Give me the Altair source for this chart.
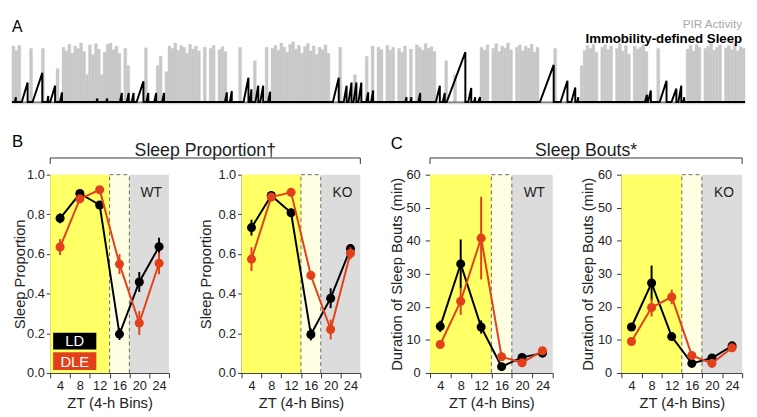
import altair as alt
import pandas as pd

FONT = "Liberation Sans"
INK = "#222222"
AXIS_INK = "#333333"
LD_COLOR = "#000000"
DLE_COLOR = "#e2401a"
PIR_COLOR = "#c8c8c8"
LIGHT_FILL = "#ffff66"
DIM_FILL = "#fefee2"
DARK_FILL = "#dcdcdc"

# ---------------- Panel A: PIR activity per time bin (relative height) ----------------
act_1 = [0.92, 0.85, 0.93, 0, 0, 0, 0.88, 0, 0, 0, 0.88, 0, 0, 0, 0, 0.55, 0, 0.9, 0.84, 0.95, 0.8, 0.92, 0.88, 0.97, 0.83]
act_2 = [0.45, 0.94, 0.78, 0.96, 0.87, 0.45, 0.82, 0.95, 0.97, 0.86, 0.92, 0.8, 0, 0.88, 0.6, 0, 0, 0, 0, 0, 0.89, 0, 0, 0, 0.6]
act_3 = [0.75, 0, 0.5, 0.92, 0.88, 0.97, 0.85, 0.93, 0.9, 0.8, 0.95, 0.87, 0.92, 0.84, 0, 0.9, 0, 0.88, 0.93, 0, 0.86, 0.91, 0.83, 0, 0]
act_4 = [0, 0, 0.9, 0, 0, 0, 0, 0.68, 0, 0, 0, 0.9, 0, 0.88, 0.93, 0.85, 0.97, 0.9, 0.82, 0.95, 0.99, 0.87, 0.93, 0.8, 0.91]
act_5 = [0.96, 0.84, 0.92, 0.78, 0.9, 0.86, 0.94, 0.8, 0, 0, 0, 0.9, 0, 0, 0, 0, 0.45, 0, 0, 0, 0.75, 0, 0.92, 0, 0.9]
act_6 = [0.86, 0, 0.93, 0.85, 0.9, 0, 0.88, 0.82, 0.92, 0, 0.87, 0, 0.94, 0.9, 0.85, 0.96, 0.88, 0.91, 0.83, 0, 0, 0, 0.68, 0, 0]
act_7 = [0.45, 0, 0, 0, 0, 0, 0, 0, 0, 0.9, 0.85, 0.94, 0, 0.88, 0.96, 0.83, 0.92, 0.89, 0.97, 0.86, 0, 0.9, 0.94, 0.84, 0.92]
act_8 = [0.88, 0.95, 0.82, 0.9, 0, 0, 0, 0, 0, 0.88, 0, 0, 0, 0, 0, 0, 0, 0, 0.6, 0.85, 0.93, 0.88, 0.95, 0.82, 0]
act_9 = [0.9, 0.94, 0.86, 0.92, 0, 0.88, 0.96, 0.84, 0.93, 0.79, 0, 0.92, 0.87, 0.9, 0.95, 0.83, 0, 0, 0, 0.88, 0, 0, 0, 0, 0]
act_10 = [0, 0, 0, 0, 0.87, 0.93, 0.84, 0.95, 0.9, 0, 0.88, 0.92, 0.97, 0.85, 0.9, 0.94, 0, 0.89, 0.93, 0.86, 0.96, 0.84, 0.91, 0.88]
pir_activity = act_1 + act_2 + act_3 + act_4 + act_5 + act_6 + act_7 + act_8 + act_9 + act_10

# Immobility-defined sleep bouts: accumulates from start to end, then resets
bout_start = [0.5, 2.83, 6.5, 11.5, 12.5, 15.83, 28.17, 31.5, 36.17, 38.5, 40.17, 41.83,
              45.17, 47.83, 50.5, 71.83, 73.5, 78.17, 80.33, 82.17, 83.83, 86.5, 108.5, 112.17,
              113.83, 115.5, 117.17, 119.83, 121.5, 133.17, 134.83, 137.5, 143.5, 145.83, 147.17, 154.5,
              156.5, 157.83, 178.83, 185.83, 189.5, 191.5, 214.5, 215.5, 219.5, 223.5, 225.83, 227.5]
bout_end = [0.83, 4.83, 9.83, 11.83, 14.17, 16.5, 28.5, 31.83, 36.83, 39.17, 40.83, 44.17,
            45.83, 48.5, 51.17, 72.5, 74.17, 79.83, 80.83, 83.17, 84.83, 87.17, 110.5, 113.17,
            114.83, 116.5, 118.17, 120.5, 122.17, 133.5, 135.17, 138.17, 144.83, 146.5, 153.5, 155.5,
            156.83, 158.5, 183.5, 188.17, 190.83, 191.83, 215.17, 216.5, 221.83, 225.17, 226.83, 227.83]
bout_peak = [0.08, 0.32, 0.48, 0.1, 0.27, 0.16, 0.06, 0.06, 0.15, 0.15, 0.15, 0.34,
             0.15, 0.15, 0.15, 0.16, 0.18, 0.4, 0.21, 0.27, 0.27, 0.17, 0.4, 0.27,
             0.32, 0.32, 0.32, 0.16, 0.19, 0.08, 0.08, 0.15, 0.27, 0.15, 0.82, 0.23,
             0.08, 0.08, 0.61, 0.35, 0.24, 0.08, 0.12, 0.19, 0.35, 0.22, 0.27, 0.08]

# ---------------- Panels B and C ----------------
zt_ticks = [0, 4, 8, 12, 16, 20, 24]
zt_mid = [2, 6, 10, 14, 18, 22]
phase_start = [0, 12, 16]
phase_end = [12, 16, 24]
phase_fill = [LIGHT_FILL, DIM_FILL, DARK_FILL]
dash_x = [12, 16, 12]
dash_x2 = [12, 16, 16]
dash_y_frac = [0, 0, 1]
prop_ticks = [0.0, 0.2, 0.4, 0.6, 0.8, 1.0]
bout_ticks = [0, 10, 20, 30, 40, 50, 60]

prop_wt_ld = [0.78, 0.905, 0.847, 0.196, 0.459, 0.637]
prop_wt_ld_sem = [0.025, 0.012, 0.02, 0.03, 0.05, 0.045]
prop_wt_dle = [0.635, 0.878, 0.924, 0.549, 0.252, 0.553]
prop_wt_dle_sem = [0.04, 0.015, 0.015, 0.05, 0.06, 0.055]
prop_ko_ld = [0.733, 0.895, 0.808, 0.194, 0.377, 0.627]
prop_ko_ld_sem = [0.04, 0.015, 0.02, 0.03, 0.05, 0.02]
prop_ko_dle = [0.574, 0.887, 0.911, 0.492, 0.219, 0.604]
prop_ko_dle_sem = [0.06, 0.015, 0.015, 0.02, 0.05, 0.03]
bout_wt_ld = [14.1, 33.0, 13.9, 1.9, 4.7, 6.0]
bout_wt_ld_sem = [1.7, 7.4, 2.0, 0.8, 0.5, 0.8]
bout_wt_dle = [8.6, 21.7, 40.8, 4.9, 3.1, 6.7]
bout_wt_dle_sem = [0.8, 4.1, 12.5, 0.8, 0.6, 0.8]
bout_ko_ld = [13.9, 27.2, 11.0, 2.9, 4.5, 8.2]
bout_ko_ld_sem = [0.8, 5.3, 0.8, 0.6, 0.5, 0.6]
bout_ko_dle = [9.5, 19.8, 23.0, 5.3, 2.9, 7.6]
bout_ko_dle_sem = [0.8, 2.7, 2.2, 0.6, 0.6, 0.8]

one = pd.DataFrame({"k": [0]})


def label_text(txt, x, y, size, **kw):
    return alt.Chart(one).mark_text(text=txt, fontSize=size, font=FONT, **kw).encode(
        x=alt.value(x), y=alt.value(y))


def hrule(x1, x2, y, color=AXIS_INK, w=1):
    return alt.Chart(one).mark_rule(color=color, strokeWidth=w).encode(
        x=alt.value(x1), x2=alt.value(x2), y=alt.value(y))


def vrule(x, y1, y2, color=AXIS_INK, w=1):
    return alt.Chart(one).mark_rule(color=color, strokeWidth=w).encode(
        x=alt.value(x), y=alt.value(y1), y2=alt.value(y2))


def box(x1, x2, y1, y2, color):
    return alt.Chart(one).mark_rect(color=color).encode(
        x=alt.value(x1), x2=alt.value(x2), y=alt.value(y1), y2=alt.value(y2))


def spacer(w, h):
    return alt.Chart(one).mark_point(opacity=0).encode(
        x=alt.value(0), y=alt.value(0)).properties(width=w, height=h)


# ---------------- Panel A chart ----------------
A_W, A_H = 747, 62
n_bins = len(pir_activity)
act_df = pd.DataFrame({"t0": [i - 0.5 for i in range(n_bins)],
                       "t1": [i + 0.5 for i in range(n_bins)],
                       "h": pir_activity})
act_df = act_df[act_df["h"] > 0]
rows = [(-0.5, 0.0)]
for s, e, p in zip(bout_start, bout_end, bout_peak):
    rows += [(s, 0.0), (e, p), (e, 0.0)]
rows.append((n_bins - 0.5, 0.0))
sleep_df = pd.DataFrame({"t0": [r[0] for r in rows], "h": [r[1] for r in rows], "i": list(range(len(rows)))})

ta = alt.Scale(domain=[-0.5, n_bins - 0.5], nice=False, zero=False)
ha = alt.Scale(domain=[0, 1], nice=False)

pir_bars = alt.Chart(act_df).mark_rect(color=PIR_COLOR, stroke=PIR_COLOR, strokeWidth=0.4).encode(
    x=alt.X("t0:Q", scale=ta, axis=None), x2="t1",
    y=alt.Y("h:Q", scale=ha, axis=None), y2=alt.datum(0))
sleep_line = alt.Chart(sleep_df).mark_line(color="black", strokeWidth=2).encode(
    x=alt.X("t0:Q", scale=ta, axis=None), y=alt.Y("h:Q", scale=ha, axis=None), order="i:Q")

panel_a = alt.layer(
    pir_bars,
    hrule(0, A_W, A_H + 1.2, color="#d4d4d4", w=2),
    hrule(0, A_W, A_H, color="#666666", w=1.3),
    sleep_line,
    label_text("A", 0, -14, 16, align="left", color="black"),
    label_text("PIR Activity", 744, -17.5, 12, align="right", color="#a8a8a8"),
    label_text("Immobility-defined Sleep", 744, -2, 13.5, align="right", color="black", fontWeight="bold"),
).properties(width=A_W, height=A_H)


# ---------------- Panels B / C ----------------
def zt_panel(ld, ld_sem, dle, dle_sem, ymax, yticks, yfmt, ytitle, tag, width,
             title_x, tick_size, label_pad, extras):
    xs = alt.Scale(domain=[0, 24], nice=False, zero=False)
    ys = alt.Scale(domain=[0, ymax], nice=False, zero=True)
    x_axis = alt.Axis(values=zt_ticks, labelExpr="datum.value == 0 ? '' : datum.label",
                      labelOffset=-width / 12, labelFlush=False, tickSize=5, labelPadding=2,
                      title="ZT (4-h Bins)", titlePadding=3, labelOverlap=False)
    y_axis = alt.Axis(values=yticks, format=yfmt, title=ytitle, titleX=title_x,
                      titleBaseline="middle", tickSize=tick_size, labelPadding=label_pad,
                      labelOverlap=False, labelFlush=False)

    def X(f):
        return alt.X(f, type="quantitative", scale=xs, axis=x_axis)

    def Y(f):
        return alt.Y(f, type="quantitative", scale=ys, axis=y_axis)

    phase = pd.DataFrame({"x": phase_start, "x2": phase_end, "y": [0] * 3,
                          "y2": [ymax] * 3, "fill": phase_fill})
    bg = alt.Chart(phase).mark_rect().encode(
        x=X("x"), x2="x2", y=Y("y"), y2="y2", color=alt.Color("fill:N", scale=None))
    dash = pd.DataFrame({"x": dash_x, "x2": dash_x2,
                         "y": [f * ymax for f in dash_y_frac], "y2": [ymax] * 3})
    dashes = alt.Chart(dash).mark_rule(color="#6a6a6a", strokeDash=[4, 3], strokeWidth=1).encode(
        x=X("x"), x2="x2", y=Y("y"), y2="y2")
    layers = [bg, dashes]
    for vals, sems, col in [(ld, ld_sem, LD_COLOR), (dle, dle_sem, DLE_COLOR)]:
        df = pd.DataFrame({"x": zt_mid, "y": vals,
                           "lo": [v - s for v, s in zip(vals, sems)],
                           "hi": [v + s for v, s in zip(vals, sems)]})
        base = alt.Chart(df)
        layers += [
            base.mark_rule(color=col, strokeWidth=2).encode(x=X("x"), y=Y("lo"), y2="hi"),
            base.mark_line(color=col, strokeWidth=2).encode(x=X("x"), y=Y("y")),
            base.mark_circle(color=col, size=85, opacity=1).encode(x=X("x"), y=Y("y")),
        ]
    layers.append(label_text(tag, width * 0.85, 19, 14, align="center", color=INK))
    layers += extras
    return alt.layer(*layers).properties(width=width, height=202)


b1_extras = [
    box(3, 47, 161, 178, LD_COLOR),
    box(3, 47, 181, 199, DLE_COLOR),
    label_text("LD", 25, 170, 15, align="center", baseline="middle", color="white"),
    label_text("DLE", 25, 190.5, 15, align="center", baseline="middle", color="white"),
    hrule(0, 316, -17),
    vrule(0, -17, -11),
    vrule(316, -17, -11),
    label_text("Sleep Proportion\u2020", 158, -24, 18, align="center", color=INK),
    label_text("B", -39, -33, 17, align="left", color="black"),
]
c1_extras = [
    hrule(0, 318, -17),
    vrule(0, -17, -11),
    vrule(318, -17, -11),
    label_text("Sleep Bouts*", 159, -24, 18, align="center", color=INK),
    label_text("C", -40, -31, 17, align="left", color="black"),
]

b1 = zt_panel(prop_wt_ld, prop_wt_ld_sem, prop_wt_dle, prop_wt_dle_sem, 1.0, prop_ticks, ".1f",
              "Sleep Proportion", "WT", 121, -31, 4, 2, b1_extras)
b2 = zt_panel(prop_ko_ld, prop_ko_ld_sem, prop_ko_dle, prop_ko_dle_sem, 1.0, prop_ticks, ".1f",
              "Sleep Proportion", "KO", 121, -37, 4, 2, [])
c1 = zt_panel(bout_wt_ld, bout_wt_ld_sem, bout_wt_dle, bout_wt_dle_sem, 60, bout_ticks, "d",
              "Duration of Sleep Bouts (min)", "WT", 125, -34, 5, 5, c1_extras)
c2 = zt_panel(bout_ko_ld, bout_ko_ld_sem, bout_ko_dle, bout_ko_dle_sem, 60, bout_ticks, "d",
              "Duration of Sleep Bouts (min)", "KO", 123, -34, 5, 5, [])

bottom = alt.hconcat(spacer(39, 1), b1, spacer(74, 1), b2, spacer(71, 1), c1, spacer(70, 1), c2,
                     spacing=0, bounds="flush")

chart = alt.vconcat(spacer(1, 27), panel_a, spacer(1, 74), bottom, spacing=0, bounds="flush").properties(
    padding={"left": 0, "top": 0, "right": 0, "bottom": 0}
).configure_view(stroke=None).configure_axis(
    labelFont=FONT, titleFont=FONT, labelFontSize=13, titleFontSize=15, titleFontWeight="normal",
    labelColor=INK, titleColor=INK, domainColor=AXIS_INK, tickColor=AXIS_INK, grid=False
)

chart.save("out.html", embed_options={"renderer": "svg", "actions": False})
